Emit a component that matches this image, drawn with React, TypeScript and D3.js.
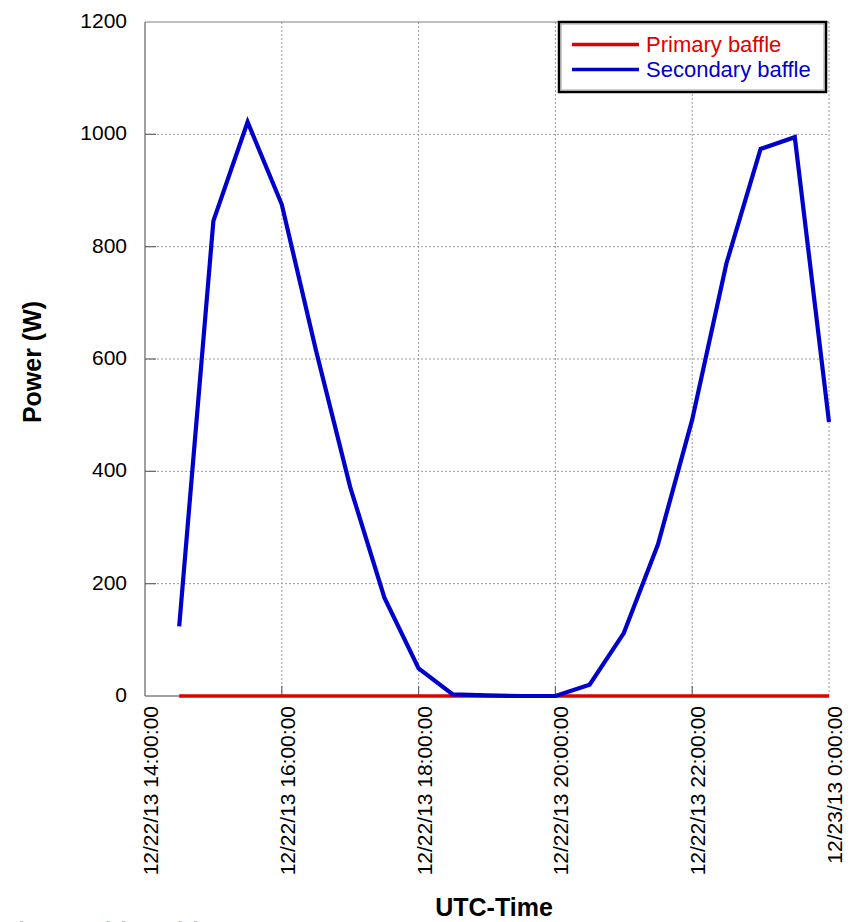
import React from "react";
import * as d3 from "d3";

// Half-hourly samples, 12/22/13 14:30 UTC through 12/23/13 00:00 UTC
const sampleTimes: string[] = [
  "2013-12-22T14:30:00Z", "2013-12-22T15:00:00Z", "2013-12-22T15:30:00Z", "2013-12-22T16:00:00Z",
  "2013-12-22T16:30:00Z", "2013-12-22T17:00:00Z", "2013-12-22T17:30:00Z", "2013-12-22T18:00:00Z",
  "2013-12-22T18:30:00Z", "2013-12-22T19:00:00Z", "2013-12-22T19:30:00Z", "2013-12-22T20:00:00Z",
  "2013-12-22T20:30:00Z", "2013-12-22T21:00:00Z", "2013-12-22T21:30:00Z", "2013-12-22T22:00:00Z",
  "2013-12-22T22:30:00Z", "2013-12-22T23:00:00Z", "2013-12-22T23:30:00Z", "2013-12-23T00:00:00Z",
];
const primaryBaffle: number[] = [0, 0, 0, 0, 0, 0, 0, 0, 0, 0, 0, 0, 0, 0, 0, 0, 0, 0, 0, 0];
const secondaryBaffle: number[] = [
  124, 846, 1022, 875, 615, 372, 175, 49, 3, 1, 0, 0, 20, 112, 270, 492, 770, 974, 995, 488,
];
const xTickTimes: string[] = [
  "2013-12-22T14:00:00Z", "2013-12-22T16:00:00Z", "2013-12-22T18:00:00Z",
  "2013-12-22T20:00:00Z", "2013-12-22T22:00:00Z", "2013-12-23T00:00:00Z",
];
const yTicks: number[] = [0, 200, 400, 600, 800, 1000, 1200];
const seriesNames: string[] = ["Primary baffle", "Secondary baffle"];
const seriesColors: string[] = ["#e00000", "#0000cc"];

const W = 851;
const H = 922;
const left = 145;
const right = 829;
const top = 22;
const bottom = 696;
const font = "'Liberation Sans', Arial, sans-serif";

export default function App() {
  const x = d3
    .scaleUtc()
    .domain([new Date(xTickTimes[0]), new Date(xTickTimes[xTickTimes.length - 1])])
    .range([left, right]);
  const y = d3.scaleLinear().domain([0, 1200]).range([bottom, top]);
  const fmt = d3.utcFormat("%m/%d/%y %-H:%M:%S");

  const dates = sampleTimes.map((t) => new Date(t));
  const line = d3
    .line<number>()
    .x((_, i) => x(dates[i]))
    .y((v) => y(v));

  const series = [primaryBaffle, secondaryBaffle];
  const legendX = 559;
  const legendY = 22;

  return (
    <svg
      width={W}
      height={H}
      style={{ position: "absolute", left: 0, top: 0, background: "#fff" }}
      fontFamily={font}
    >
      {/* grid */}
      {yTicks.slice(1, -1).map((t) => (
        <line key={"gy" + t} x1={left} x2={right} y1={y(t)} y2={y(t)}
          stroke="#9a9a9a" strokeWidth={1} strokeDasharray="2,2" />
      ))}
      {xTickTimes.slice(1).map((t) => (
        <line key={"gx" + t} x1={x(new Date(t))} x2={x(new Date(t))} y1={top} y2={bottom}
          stroke="#9a9a9a" strokeWidth={1} strokeDasharray="2,2" />
      ))}
      {/* frame */}
      <line x1={left} x2={right} y1={top} y2={top} stroke="#808080" strokeWidth={1.2} />
      <line x1={left} x2={left} y1={top} y2={bottom} stroke="#808080" strokeWidth={1.5} />
      <line x1={left} x2={right} y1={bottom} y2={bottom} stroke="#808080" strokeWidth={1.5} />
      {/* inner ticks */}
      {yTicks.slice(1, -1).map((t) => (
        <line key={"ty" + t} x1={left} x2={left + 11} y1={y(t)} y2={y(t)} stroke="#666" strokeWidth={1.2} />
      ))}
      {xTickTimes.slice(1, -1).map((t) => (
        <line key={"tx" + t} x1={x(new Date(t))} x2={x(new Date(t))} y1={bottom} y2={bottom - 10}
          stroke="#666" strokeWidth={1.2} />
      ))}

      {/* y tick labels */}
      {yTicks.map((t) => (
        <text key={"ly" + t} x={127} y={y(t) + 6} textAnchor="end" fontSize={21} fill="#000">
          {t}
        </text>
      ))}
      {/* x tick labels */}
      {xTickTimes.map((t) => {
        const gx = x(new Date(t));
        return (
          <text key={"lx" + t} transform={`translate(${gx + 13},706) rotate(-90)`}
            textAnchor="end" fontSize={21} fill="#000">
            {fmt(new Date(t))}
          </text>
        );
      })}

      {/* series */}
      {series.map((s, i) => (
        <path key={"s" + i} d={line(s) || ""} fill="none" stroke={seriesColors[i]}
          strokeWidth={i === 0 ? 3.5 : 4.2} strokeLinejoin="miter" />
      ))}

      {/* axis titles */}
      <text transform="translate(41,362) rotate(-90)" textAnchor="middle" fontSize={25}
        fontWeight="bold" fill="#000">Power (W)</text>
      <text x={494} y={916} textAnchor="middle" fontSize={25} fontWeight="bold" fill="#000">
        UTC-Time
      </text>

      {/* legend */}
      <rect x={legendX} y={legendY} width={267} height={70} fill="#fff" stroke="#000" strokeWidth={2.5} />
      <rect x={legendX + 2} y={legendY + 2} width={263} height={66} fill="none" stroke="#888" strokeWidth={0.8} />
      {seriesNames.map((n, i) => (
        <g key={"lg" + i}>
          <line x1={572} x2={639} y1={44.5 + i * 25} y2={44.5 + i * 25} stroke={seriesColors[i]} strokeWidth={3.5} />
          <text x={646} y={52 + i * 25} fontSize={22} fill={seriesColors[i]}>{n}</text>
        </g>
      ))}

      {/* caption line continuing below the frame */}
      {[21, 108, 123, 180, 195].map((cx, i) => (
        <text key={"c" + i} x={cx} y={942} textAnchor="middle" fontSize={24} fontWeight="bold"
          fontFamily="'DejaVu Sans Mono', monospace" fill="#000">i</text>
      ))}
    </svg>
  );
}
